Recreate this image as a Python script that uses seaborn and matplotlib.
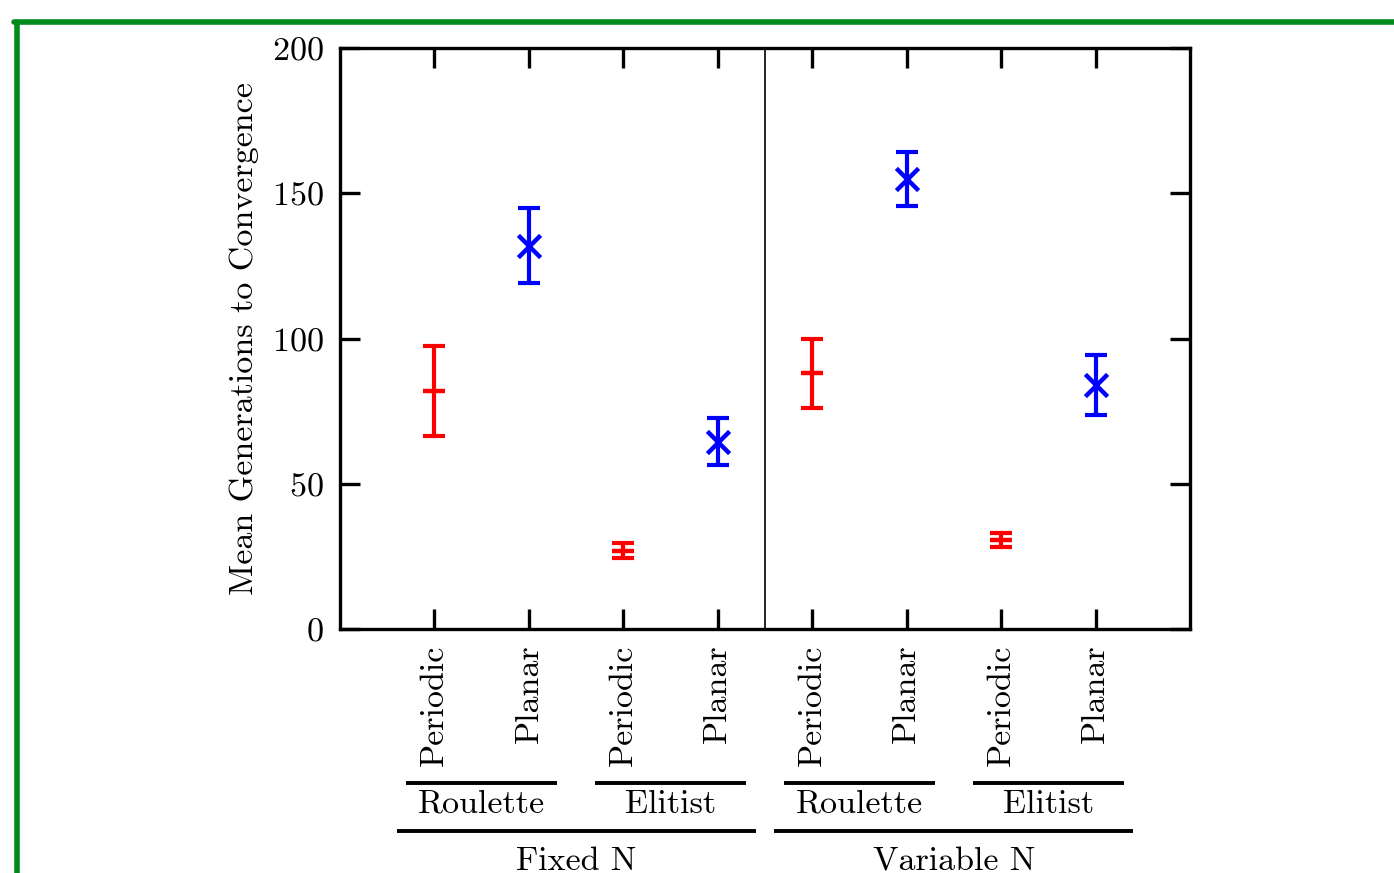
import numpy as np
import pandas as pd
import matplotlib
matplotlib.use('Agg')
import matplotlib.pyplot as plt
from matplotlib.lines import Line2D
import seaborn as sns

# Values
population = ['Fixed N', 'Variable N']
selection = ['Roulette', 'Elitist']
topology = ['Periodic', 'Planar']
mean_gens = [82, 132, 27, 64.5, 88, 155, 30.5, 84]
err_gens = [15.5, 13, 2.6, 8, 12, 9.3, 2.4, 10.2]

rows = []
i = 0
for pop in population:
    for sel in selection:
        for top in topology:
            rows.append({'pop': pop, 'sel': sel, 'top': top, 'pos': i + 1,
                         'mean': mean_gens[i], 'err': err_gens[i]})
            i += 1
df = pd.DataFrame(rows)

sns.set_theme(style='ticks')
plt.rcParams['font.family'] = ['cmr10', 'DejaVu Serif']
plt.rcParams['axes.formatter.use_mathtext'] = True
plt.rcParams['mathtext.fontset'] = 'cm'
for key in ['text.color', 'axes.labelcolor', 'xtick.color', 'ytick.color',
            'axes.edgecolor']:
    plt.rcParams[key] = 'black'

FS = 24.5

fig = plt.figure(figsize=(13.94, 8.73), dpi=100)
ax = fig.add_axes([340 / 1394, 1 - 629 / 873, 850 / 1394, 581 / 873])

colors = {'Periodic': '#ff0000', 'Planar': '#0000ff'}
markers = {'Periodic': '_', 'Planar': 'x'}

for top in topology:
    sub = df[df['top'] == top]
    ax.errorbar(sub['pos'], sub['mean'], yerr=sub['err'], fmt='none',
                ecolor=colors[top], elinewidth=3.0, capsize=8, capthick=3.0,
                zorder=3)
    sns.scatterplot(data=sub, x='pos', y='mean', marker=markers[top],
                    color=colors[top], s=256,
                    linewidth=3.2, ax=ax, zorder=4, legend=False)

ax.axvline(4.5, color='black', lw=1.2)

ax.set_xlim(0, 9)
ax.set_ylim(0, 200)
ax.set_yticks([0, 50, 100, 150, 200])
ax.set_xticks(df['pos'])
ax.set_xticklabels(df['top'], rotation=90, fontsize=FS)
ax.tick_params(axis='y', labelsize=FS)
ax.tick_params(direction='in', length=14.5, width=2.4, top=True, right=True,
               color='black')
ax.tick_params(axis='x', pad=11)
ax.tick_params(axis='y', pad=12)
for s in ax.spines.values():
    s.set_linewidth(2.4)
    s.set_color('black')

ax.set_xlabel('')
ax.set_ylabel('Mean Generations to Convergence', fontsize=FS, labelpad=9)

# group brackets below the axis
tr = ax.get_xaxis_transform()
for k, pop in enumerate(population):
    for j, sel in enumerate(selection):
        c = 4 * k + 2 * j + 1.5
        ax.plot([c - 0.8, c + 0.8], [-0.265, -0.265], color='black', lw=2.8,
                transform=tr, clip_on=False, solid_capstyle='butt')
        ax.text(c, -0.302, sel, transform=tr, ha='center', va='center',
                fontsize=FS)
    c = 4 * k + 2.5
    ax.plot([c - 1.9, c + 1.9], [-0.348, -0.348], color='black', lw=2.8,
            transform=tr, clip_on=False, solid_capstyle='butt')
    ax.text(c, -0.401, pop, transform=tr, ha='center', va='center',
            fontsize=FS)

# green frame
fig.add_artist(Line2D([16.5 / 1394, 16.5 / 1394], [-0.1, 1 - 21.5 / 873],
                      transform=fig.transFigure, color='#008a1c', lw=4.0))
fig.add_artist(Line2D([14 / 1394, 1.1], [1 - 21.5 / 873, 1 - 21.5 / 873],
                      transform=fig.transFigure, color='#008a1c', lw=4.0))

fig.savefig('out.png', dpi=100)
